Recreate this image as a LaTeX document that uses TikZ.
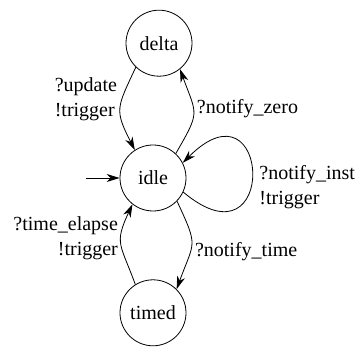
\documentclass[tikz,border=0pt]{standalone}
\usepackage{fontspec}
\setmainfont{Liberation Serif}
\usetikzlibrary{
    arrows.meta,
    positioning,
}

\begin{document}
\begin{tikzpicture}[
        x=1pt, y=1pt,
        state/.style={circle, draw=black, line width=0.8pt, minimum size=66pt, inner sep=0pt,
            font=\fontsize{20}{25}\selectfont},
        trans/.style={line width=0.8pt, -{Stealth[length=13pt, width=8pt, inset=4pt]}},
        lbl/.style={font=\fontsize{20}{25}\selectfont, inner sep=3pt},
        node distance=68pt,
        ]
        \useasboundingbox (0,0) rectangle (357,347);
        \node[state] (idle) at (153,169) {idle};
        \node[state] (delta) [above=of idle, xshift=6pt] {delta};
        \node[state] (timed) [below=of idle] {timed};
        \coordinate[left=34pt of idle.west] (start);
        \draw[trans] (start) -- (idle);
        % delta <-> idle
        \draw[trans] (delta.-134) to[out=-115, in=117, looseness=1.4]
            node[lbl, midway, anchor=east, yshift=10pt, align=left] {?update\\!trigger} (idle.123);
        \draw[trans] (idle.47) to[out=60, in=-70, looseness=1.5]
            node[lbl, midway, anchor=west, yshift=4pt] {?notify\_zero} (delta.-51);
        % idle <-> timed
        \draw[trans] (idle.-44) to[out=-65, in=70, looseness=1.5]
            node[lbl, midway, anchor=west, yshift=-7pt] {?notify\_time} (timed.45);
        \draw[trans] (timed.122) to[out=110, in=-115, looseness=1.4]
            node[lbl, midway, anchor=east, yshift=6pt, align=right] {?time\_elapse\\!trigger} (idle.-128);
        % self loop
        \draw[trans] (idle.-25) .. controls +(-40:125) and +(45:125) .. (idle.27)
            node[lbl, pos=0.5, anchor=west, xshift=4pt, yshift=-13pt, align=left] {?notify\_inst\\!trigger};
    \end{tikzpicture}
\end{document}
